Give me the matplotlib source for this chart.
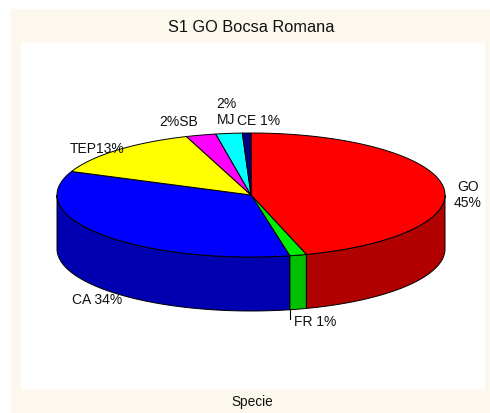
import numpy as np
import matplotlib.pyplot as plt
from matplotlib.patches import Polygon, Rectangle

plt.rcParams["font.family"] = ["Liberation Sans", "DejaVu Sans"]

TITLE = "S1 GO Bocsa Romana"
XLABEL = "Specie"
SPECIES = ["GO", "FR", "CA", "TEP", "SB", "MJ", "CE"]
SHARES = [45.4, 1.4, 34.4, 13.4, 2.49, 2.2, 0.71]
TOP_COLORS = ["#ff0000", "#00ee00", "#0000ff", "#ffff00", "#ff00ff",
              "#00ffff", "#000080"]
SIDE_COLORS = ["#b00000", "#00c000", "#0000b0", "#b0b000", "#b000b0",
               "#00b0b0", "#000060"]
LABEL_FMT = ["{n}\n{p}%", "{n} {p}%", "{n} {p}%", "{n}{p}%", "{p}%{n}",
             "{p}%\n{n}", "{n} {p}%"]
LABEL_POS = [(468, 195), (315, 322), (97, 300), (97, 149), (179, 122),
             (226, 112), (259, 121)]

# pie geometry in pixel coordinates (y grows downward)
CX, CY, RX, RY, DEPTH = 251, 195, 194, 62, 54


def rim(t_deg, drop=0.0):
    t = np.radians(t_deg)
    return np.column_stack([CX + RX * np.cos(t), CY - RY * np.sin(t) + drop])


def main():
    fig = plt.figure(figsize=(4.9, 4.13), dpi=100)
    ax = fig.add_axes([0, 0, 1, 1])
    ax.set_xlim(0, 490)
    ax.set_ylim(413, 0)
    ax.axis("off")

    ax.add_patch(Rectangle((11, 9), 479, 404, facecolor="#fdf8ee",
                           edgecolor="none"))
    ax.add_patch(Rectangle((21, 43), 464, 346, facecolor="white",
                           edgecolor="none"))

    vals = np.array(SHARES, dtype=float)
    sweep = vals / vals.sum() * 360.0
    starts = 90.0 - np.concatenate([[0], np.cumsum(sweep)[:-1]])
    ends = starts - sweep

    # side walls: only the front half (angles -180..0) faces the viewer
    for t1, t2, col in zip(starts, ends, SIDE_COLORS):
        lo, hi = max(t2, -180.0), min(t1, 0.0)
        if lo >= hi:
            continue
        ts = np.linspace(hi, lo, 80)
        pts = np.vstack([rim(ts), rim(ts[::-1], DEPTH)])
        ax.add_patch(Polygon(pts, closed=True, facecolor=col,
                             edgecolor="black", linewidth=0.7))

    # top face wedges
    for t1, t2, col in zip(starts, ends, TOP_COLORS):
        ts = np.linspace(t1, t2, max(int(abs(t1 - t2)) * 2, 4))
        pts = np.vstack([[CX, CY], rim(ts)])
        ax.add_patch(Polygon(pts, closed=True, facecolor=col,
                             edgecolor="black", linewidth=0.7))

    # leader tick under the FR slice
    fr_end = rim(np.array([ends[1]]), DEPTH)[0]
    ax.plot([fr_end[0], fr_end[0]], [fr_end[1], fr_end[1] + 9],
            color="black", linewidth=0.8)

    for name, v, fmt, (x, y) in zip(SPECIES, vals, LABEL_FMT, LABEL_POS):
        txt = fmt.format(n=name, p=int(round(v)))
        ax.text(x, y, txt, ha="center", va="center", fontsize=10,
                color="#111111", linespacing=1.2)

    ax.text(251, 28, TITLE, ha="center", va="center", fontsize=11.8,
            color="#111111")
    ax.text(252, 402, XLABEL, ha="center", va="center", fontsize=9.8,
            color="#111111")

    fig.savefig("out.png", dpi=100)


if __name__ == "__main__":
    main()
